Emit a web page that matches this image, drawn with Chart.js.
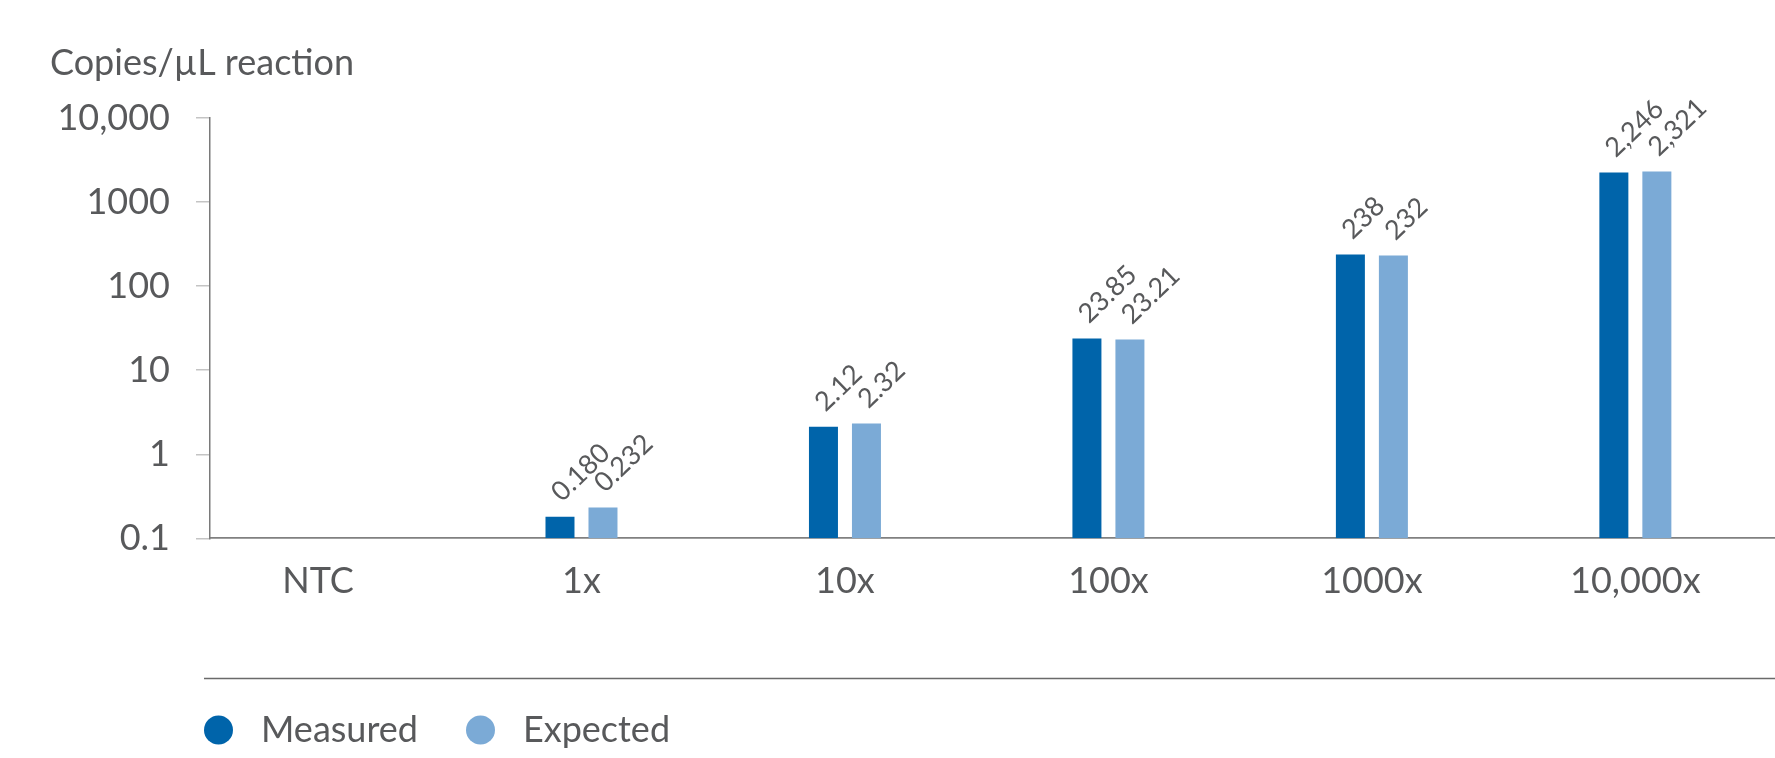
<!DOCTYPE html>
<html>
<head>
<meta charset="utf-8">
<script src="https://cdn.jsdelivr.net/npm/chart.js@4/dist/chart.umd.min.js"></script>
<style>
  html, body { margin: 0; padding: 0; background: #ffffff; }
  #wrap { width: 1775px; height: 758px; position: relative; }
</style>
</head>
<body>
<div id="wrap"><canvas id="c" width="1775" height="758"></canvas></div>
<script>
// ---- data ----
const categories = ['NTC', '1x', '10x', '100x', '1000x', '10,000x'];
const measured = [null, 0.180, 2.12, 23.85, 238, 2246];
const expected = [null, 0.232, 2.32, 23.21, 232, 2321];
const labelDecimals = [0, 3, 2, 2, 0, 0];
const yTickValues = [0.1, 1, 10, 100, 1000, 10000];
const yTickLabels = ['0.1', '1', '10', '100', '1000', '10,000'];
const seriesNames = ['Measured', 'Expected'];
const seriesColors = ['#0064AA', '#7BAAD6'];
const yTitle = 'Copies/\u00B5L reaction';

const TEXT = '#58595B';
const FONT = 'Lato';

function makeMarker(color) {
  const c = document.createElement('canvas');
  c.width = 39; c.height = 30;
  const g = c.getContext('2d');
  g.fillStyle = color;
  g.beginPath();
  g.arc(14.5, 15, 14.5, 0, Math.PI * 2);
  g.fill();
  return c;
}
const legendMarkers = seriesColors.map(makeMarker);

function fmt(v, d) {
  return v.toLocaleString('en-US', { minimumFractionDigits: d, maximumFractionDigits: d });
}

const valueLabels = {
  id: 'valueLabels',
  afterDatasetsDraw(chart) {
    const ctx = chart.ctx;
    ctx.save();
    ctx.fillStyle = TEXT;
    ctx.font = '27px ' + FONT;
    ctx.textAlign = 'left';
    ctx.textBaseline = 'alphabetic';
    chart.data.datasets.forEach((ds, di) => {
      const meta = chart.getDatasetMeta(di);
      meta.data.forEach((bar, i) => {
        const raw = ds.data[i];
        if (raw == null || raw.y == null) return;
        ctx.save();
        ctx.translate(bar.x + 2, bar.y - 14);
        ctx.rotate(-44 * Math.PI / 180);
        ctx.fillText(fmt(raw.y, labelDecimals[i]), 0, 0);
        ctx.restore();
      });
    });
    ctx.restore();
  }
};

const legendShift = {
  id: 'legendShift',
  afterLayout(chart) {
    const lg = chart.legend;
    lg.left += 106;
    lg.right += 106;
  },
  afterDraw(chart) {
    const lg = chart.legend;
    const ctx = chart.ctx;
    ctx.save();
    ctx.strokeStyle = '#6a6a6a';
    ctx.lineWidth = 1.5;
    ctx.beginPath();
    const y = lg.top + 14.5;
    ctx.moveTo(lg.left + lg.options.labels.padding, y);
    ctx.lineTo(chart.width, y);
    ctx.stroke();
    ctx.restore();
  }
};

Chart.defaults.font.family = FONT;
Chart.defaults.color = TEXT;

new Chart(document.getElementById('c'), {
  type: 'bar',
  data: {
    datasets: [
      {
        label: seriesNames[0],
        data: measured.map((v, i) => ({ x: i, y: v })),
        backgroundColor: seriesColors[0],
        borderWidth: 0
      },
      {
        label: seriesNames[1],
        data: expected.map((v, i) => ({ x: i, y: v })),
        backgroundColor: seriesColors[1],
        borderWidth: 0
      }
    ]
  },
  options: {
    responsive: false,
    animation: false,
    layout: { padding: { left: 50, right: 0, top: 0, bottom: 0 } },
    datasets: { bar: { categoryPercentage: 0.3264, barPercentage: 0.6744 } },
    scales: {
      x: {
        type: 'linear',
        offset: false,
        min: -0.41,
        max: 5.53,
        grid: { display: false, drawTicks: false, offset: false },
        border: { display: true, color: '#808080', width: 1.8 },
        afterBuildTicks(scale) { scale.ticks = categories.map((_, i) => ({ value: i })); },
        afterFit(scale) { scale.height = 125.7; },
        ticks: {
          autoSkip: false,
          maxRotation: 0,
          padding: 21,
          font: { size: 36 },
          color: TEXT,
          callback: (v) => categories[v] ?? ''
        }
      },
      y: {
        type: 'logarithmic',
        min: 0.1,
        max: 10000,
        grid: { display: true, drawOnChartArea: false, drawTicks: true, tickLength: 14, color: '#c4c4c4', lineWidth: 1.5 },
        border: { display: true, color: '#7a7a7a', width: 1.5 },
        afterBuildTicks(scale) { scale.ticks = yTickValues.map(v => ({ value: v })); },
        afterFit(scale) { scale.width = 160; },
        ticks: {
          padding: 26,
          font: { size: 36 },
          color: TEXT,
          callback: (v, i) => yTickLabels[i]
        }
      }
    },
    plugins: {
      title: {
        display: true,
        text: yTitle,
        align: 'start',
        color: TEXT,
        font: { size: 36, weight: 'normal', lineHeight: 1.1 },
        padding: { top: 44, bottom: 34.5 }
      },
      legend: {
        display: true,
        position: 'bottom',
        align: 'start',
        labels: {
          usePointStyle: true,
          pointStyleWidth: 39,
          boxHeight: 30,
          padding: 48,
          color: TEXT,
          font: { size: 36 },
          generateLabels(chart) {
            const items = Chart.defaults.plugins.legend.labels.generateLabels(chart);
            items.forEach((it, i) => { it.pointStyle = legendMarkers[i]; it.lineWidth = 0; });
            return items;
          }
        }
      },
      tooltip: { enabled: false }
    }
  },
  plugins: [valueLabels, legendShift]
});
</script>
</body>
</html>
